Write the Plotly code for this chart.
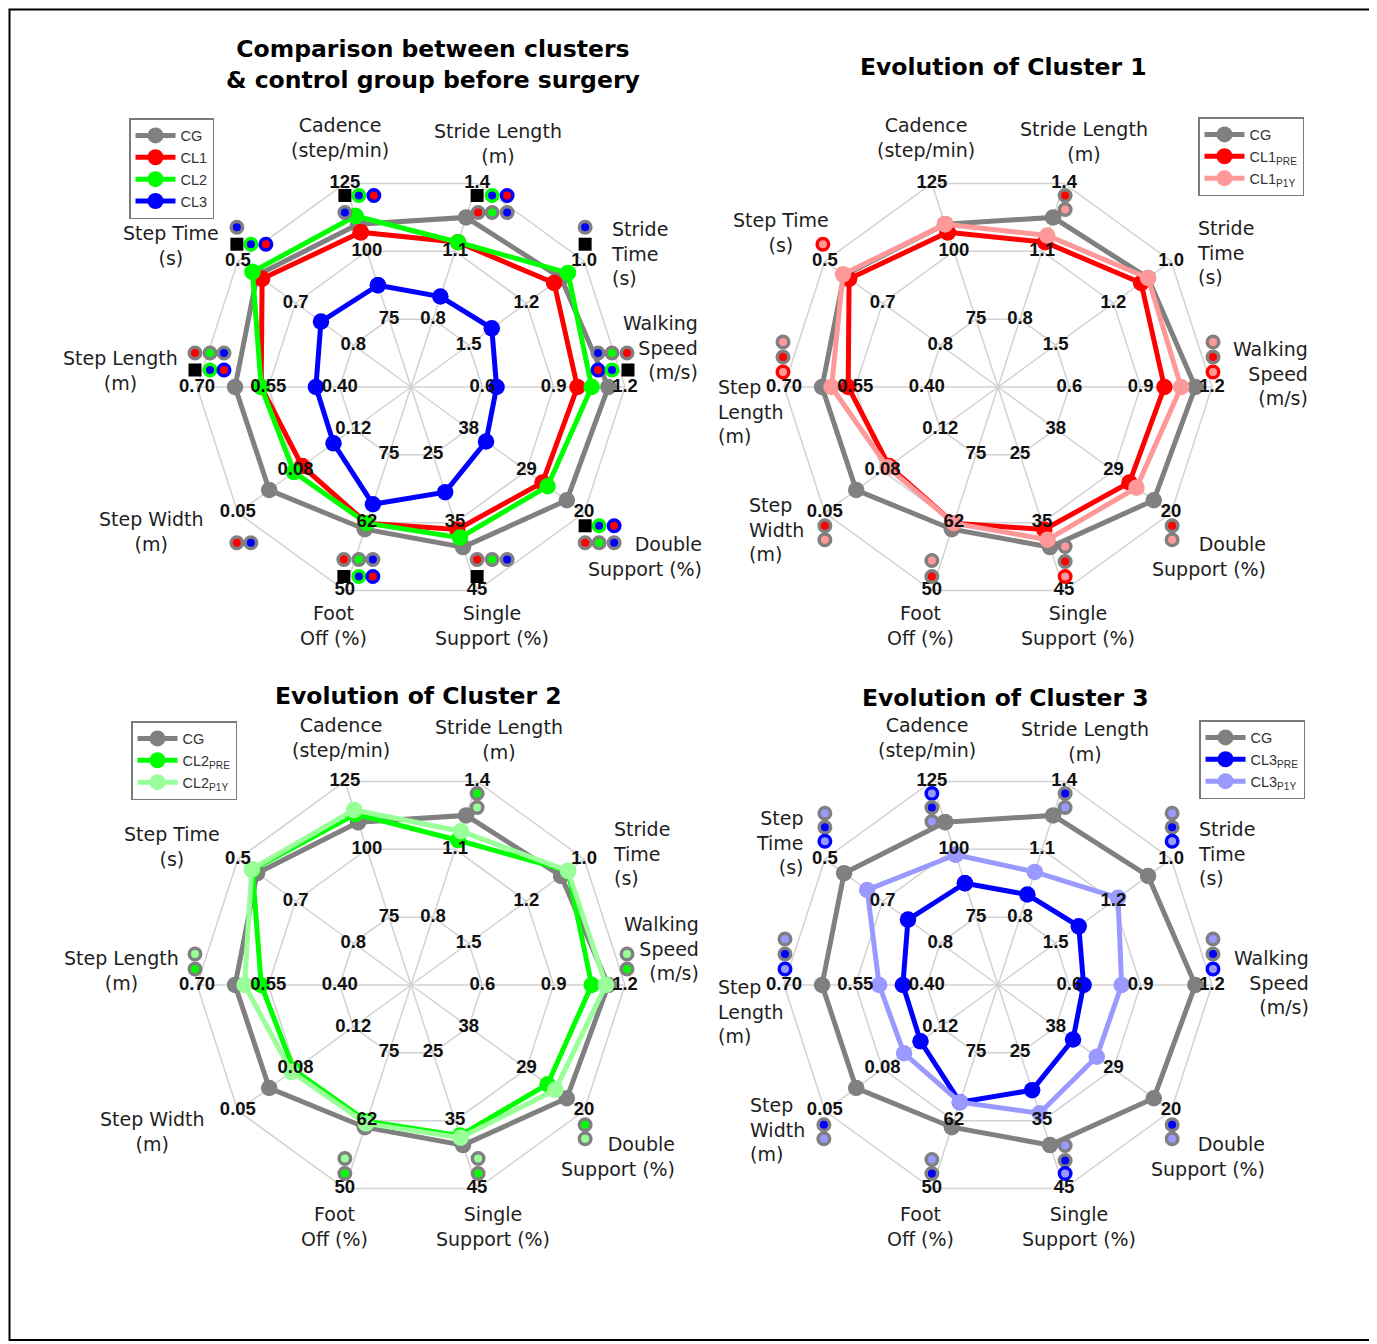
import math
import plotly.graph_objects as go

PAGE_OFF = 8          # the page body margin in the browser
W, H = 1377 - PAGE_OFF, 1344 - PAGE_OFF
R_PX = 214.0          # pixel radius of the outer ring
RMAX = 1.3            # radial range shown by each polar subplot

# ---------------- axes (clockwise from Cadence) ----------------
categories = ["Cadence", "Stride Length", "Stride Time", "Walking Speed", "Double Support",
              "Single Support", "Foot Off", "Step Width", "Step Length", "Step Time"]
theta_deg = [108, 72, 36, 0, -36, -72, -108, -144, 180, 144]
axis_center = [50, 0.5, 1.75, 0.3, 47, 15, 87.5, 0.155, 0.25, 0.95]   # value at the centre
axis_outer = [125, 1.4, 1.0, 1.2, 20, 45, 50, 0.05, 0.70, 0.5]        # value at the outer ring
tick_text = [["75", "100", "125"], ["0.8", "1.1", "1.4"], ["1.5", "1.2", "1.0"],
             ["0.6", "0.9", "1.2"], ["38", "29", "20"], ["25", "35", "45"],
             ["75", "62", "50"], ["0.12", "0.08", "0.05"], ["0.40", "0.55", "0.70"],
             ["0.8", "0.7", "0.5"]]

# ---------------- series values ----------------
cg = [110, 1.25, 1.10, 1.13, 22.7, 38.6, 61.3, 0.069, 0.62, 0.55]
cl1_pre = [107, 1.14, 1.13, 1.00, 26.5, 36.0, 62.4, 0.089, 0.565, 0.563]
cl1_p1y = [110, 1.17, 1.10, 1.07, 25.4, 37.5, 62.4, 0.088, 0.60, 0.547]
cl2_pre = [113, 1.14, 1.07, 1.06, 25.7, 37.2, 62.4, 0.084, 0.565, 0.538]
cl2_p1y = [114.5, 1.18, 1.07, 1.12, 24.5, 37.5, 62.0, 0.0825, 0.60, 0.536]
cl3_pre = [87.5, 0.90, 1.40, 0.66, 35.3, 30.5, 65.9, 0.108, 0.45, 0.716]
cl3_p1y = [98, 1.00, 1.23, 0.82, 31.6, 33.9, 65.9, 0.098, 0.50, 0.61]

COL = {"k": "#808080", "r": "#ff0000", "g": "#00ff00", "b": "#0000ff",
       "p": "#ff9999", "l": "#99ff99", "v": "#9999ff"}

# significance marks: (axis index, dx px, dy px, code) ; code = ring+centre colour or "sq"
sig_tl = [
    (0, 0, 12, "sq"), (0, 14, 12, "gb"), (0, 29, 12, "br"), (0, 0, 29, "kb"),
    (1, 0, 12, "sq"), (1, 15, 12, "gb"), (1, 30, 12, "br"), (1, 1, 29, "kr"), (1, 15, 29, "kg"), (1, 30, 29, "kb"),
    (2, 1, -34, "kb"), (2, 1, -17, "sq"),
    (3, -27, -34, "kb"), (3, -13, -34, "kg"), (3, 2, -34, "kr"), (3, -27, -17, "br"), (3, -13, -17, "gb"), (3, 3, -17, "sq"),
    (4, 1, 13, "sq"), (4, 15, 13, "gb"), (4, 30, 13, "br"), (4, 1, 30, "kr"), (4, 15, 30, "kg"), (4, 30, 30, "kb"),
    (5, 0, -31, "kr"), (5, 15, -31, "kg"), (5, 30, -31, "kb"), (5, 0, -14, "sq"),
    (6, -1, -31, "kr"), (6, 14, -31, "kg"), (6, 28, -31, "kb"), (6, -1, -14, "sq"), (6, 14, -14, "gb"), (6, 28, -14, "br"),
    (7, -1, 30, "kr"), (7, 13, 30, "kb"),
    (8, -2, -34, "kr"), (8, 13, -34, "kg"), (8, 27, -34, "kb"), (8, -2, -17, "sq"), (8, 13, -17, "gb"), (8, 27, -17, "br"),
    (9, -1, -34, "kb"), (9, -1, -17, "sq"), (9, 13, -17, "gb"), (9, 28, -17, "br"),
]
sig_tr = [
    (1, 1, 12, "kr"), (1, 1, 26, "kp"),
    (9, -2, -17, "rp"),
    (3, 1, -45, "kp"), (3, 1, -30, "kr"), (3, 1, -15, "rp"),
    (8, -1, -45, "kp"), (8, -1, -30, "kr"), (8, -1, -15, "rp"),
    (7, 0, 13, "kr"), (7, 0, 27, "kp"),
    (6, 0, -30, "kp"), (6, 0, -14, "kr"),
    (5, 1, -44, "kp"), (5, 1, -29, "kr"), (5, 1, -14, "rp"),
    (4, 1, 13, "kr"), (4, 1, 27, "kp"),
]
sig_bl = [
    (1, 0, 12, "kg"), (1, 0, 26, "kl"),
    (8, -2, -31, "kl"), (8, -2, -16, "kg"),
    (3, 2, -31, "kl"), (3, 2, -16, "kg"),
    (6, 0, -30, "kl"), (6, 0, -15, "kg"),
    (5, 1, -30, "kl"), (5, 1, -15, "kg"),
    (4, 1, 14, "kg"), (4, 1, 28, "kl"),
]
sig_br = [
    (0, 0, 12, "bv"), (0, 0, 26, "kb"), (0, 0, 40, "kv"),
    (1, 1, 12, "kb"), (1, 1, 26, "kv"),
    (9, 0, -46, "kv"), (9, 0, -32, "kb"), (9, 0, -18, "bv"),
    (2, 1, -46, "kv"), (2, 1, -32, "kb"), (2, 1, -18, "bv"),
    (8, 1, -46, "kv"), (8, 1, -31, "kb"), (8, 1, -16, "bv"),
    (3, 1, -46, "kv"), (3, 1, -31, "kb"), (3, 1, -16, "bv"),
    (7, -1, 14, "kb"), (7, -1, 28, "kv"),
    (6, 0, -29, "kv"), (6, 0, -15, "kb"),
    (5, 1, -43, "kv"), (5, 1, -28, "kb"), (5, 1, -15, "bv"),
    (4, 1, 14, "kb"), (4, 1, 28, "kv"),
]

# axis titles: (text, dx, dy, anchor) relative to the subplot centre
labels_tl = [
    ("Cadence<br>(step/min)", -71, -249, "center"), ("Stride Length<br>(m)", 87, -244, "center"),
    ("Stride<br>Time<br>(s)", 198, -134, "left"), ("Walking<br>Speed<br>(m/s)", 289, -39, "right"),
    ("Double<br>Support (%)", 293, 169, "right"), ("Single<br>Support (%)", 81, 239, "center"),
    ("Foot<br>Off (%)", -78, 239, "center"), ("Step Width<br>(m)", -260, 144, "center"),
    ("Step Length<br>(m)", -291, -17, "center"), ("Step Time<br>(s)", -240, -141, "center"),
]
labels_tr = [
    ("Cadence<br>(step/min)", -72, -249, "center"), ("Stride Length<br>(m)", 86, -246, "center"),
    ("Stride<br>Time<br>(s)", 197, -135, "left"), ("Walking<br>Speed<br>(m/s)", 312, -13, "right"),
    ("Double<br>Support (%)", 270, 169, "right"), ("Single<br>Support (%)", 80, 239, "center"),
    ("Foot<br>Off (%)", -77, 239, "center"), ("Step<br>Width<br>(m)", -251, 142, "left"),
    ("Step<br>Length<br>(m)", -282, 24, "left"), ("Step Time<br>(s)", -217, -154, "center"),
]
labels_bl = [
    ("Cadence<br>(step/min)", -70, -247, "center"), ("Stride Length<br>(m)", 88, -246, "center"),
    ("Stride<br>Time<br>(s)", 200, -132, "left"), ("Walking<br>Speed<br>(m/s)", 290, -37, "right"),
    ("Double<br>Support (%)", 266, 171, "right"), ("Single<br>Support (%)", 82, 241, "center"),
    ("Foot<br>Off (%)", -77, 241, "center"), ("Step Width<br>(m)", -259, 146, "center"),
    ("Step Length<br>(m)", -290, -15, "center"), ("Step Time<br>(s)", -239, -139, "center"),
]
labels_br = [
    ("Cadence<br>(step/min)", -71, -247, "center"), ("Stride Length<br>(m)", 87, -244, "center"),
    ("Stride<br>Time<br>(s)", 198, -132, "left"), ("Walking<br>Speed<br>(m/s)", 313, -3, "right"),
    ("Double<br>Support (%)", 269, 171, "right"), ("Single<br>Support (%)", 81, 241, "center"),
    ("Foot<br>Off (%)", -78, 241, "center"), ("Step<br>Width<br>(m)", -250, 144, "left"),
    ("Step<br>Length<br>(m)", -282, 26, "left"), ("Step<br>Time<br>(s)", -192, -143, "right"),
]

panels = [
    dict(center=(411, 387), title="<b>Comparison between clusters<br>&amp; control group before surgery</b>",
         title_xy=(433, 65), legend="legend", legend_xy=(129, 118),
         series=[("CG", cg, COL["k"]), ("CL1", cl1_pre, COL["r"]), ("CL2", cl2_pre, COL["g"]), ("CL3", cl3_pre, COL["b"])],
         sig=sig_tl, labels=labels_tl),
    dict(center=(998, 387), title="<b>Evolution of Cluster 1</b>", title_xy=(1004, 67),
         legend="legend2", legend_xy=(1198, 117),
         series=[("CG", cg, COL["k"]), ("CL1<sub>PRE</sub>", cl1_pre, COL["r"]), ("CL1<sub>P1Y</sub>", cl1_p1y, COL["p"])],
         sig=sig_tr, labels=labels_tr),
    dict(center=(411, 985), title="<b>Evolution of Cluster 2</b>", title_xy=(418, 696),
         legend="legend3", legend_xy=(131, 721),
         series=[("CG", cg, COL["k"]), ("CL2<sub>PRE</sub>", cl2_pre, COL["g"]), ("CL2<sub>P1Y</sub>", cl2_p1y, COL["l"])],
         sig=sig_bl, labels=labels_bl),
    dict(center=(998, 985), title="<b>Evolution of Cluster 3</b>", title_xy=(1005, 698),
         legend="legend4", legend_xy=(1199, 720),
         series=[("CG", cg, COL["k"]), ("CL3<sub>PRE</sub>", cl3_pre, COL["b"]), ("CL3<sub>P1Y</sub>", cl3_p1y, COL["v"])],
         sig=sig_br, labels=labels_br),
]


def px_x(px):
    return (px - PAGE_OFF) / W


def px_y(py):
    return 1 - (py - PAGE_OFF) / H


def norm(values):
    return [(v - c) / (o - c) for v, c, o in zip(values, axis_center, axis_outer)]


def offset_polar(theta, dx, dy):
    t = math.radians(theta)
    x = math.cos(t) + dx / R_PX
    y = math.sin(t) - dy / R_PX
    return math.hypot(x, y), math.degrees(math.atan2(y, x))


fig = go.Figure()
layout = dict(width=W, height=H, margin=dict(l=0, r=0, t=0, b=0), paper_bgcolor="white",
              plot_bgcolor="white", annotations=[], shapes=[])

GRID = "#d2d2d2"
LABEL_FONT = dict(family="DejaVu Sans", size=19, color="#1e1e1e")

for i, p in enumerate(panels):
    sp = "polar" if i == 0 else f"polar{i + 1}"
    cx, cy = p["center"]
    S = RMAX * R_PX
    layout[sp] = dict(
        domain=dict(x=[px_x(cx - S), px_x(cx + S)], y=[px_y(cy + S), px_y(cy - S)]),
        bgcolor="rgba(0,0,0,0)",
        radialaxis=dict(visible=False, range=[0, RMAX]),
        angularaxis=dict(visible=False, rotation=0, direction="counterclockwise"),
    )
    # grid rings
    rr, tt = [], []
    for level in (1 / 3, 2 / 3, 1.0):
        rr += [level] * 11 + [None]
        tt += theta_deg + [theta_deg[0], None]
    fig.add_trace(go.Scatterpolar(r=rr, theta=tt, mode="lines", subplot=sp, showlegend=False,
                                  line=dict(color=GRID, width=1.5), hoverinfo="skip"))
    rr, tt = [], []
    for th in theta_deg:
        rr += [0, 1, None]
        tt += [th, th, None]
    fig.add_trace(go.Scatterpolar(r=rr, theta=tt, mode="lines", subplot=sp, showlegend=False,
                                  line=dict(color=GRID, width=1.5), hoverinfo="skip"))
    # data series
    for name, vals, color in p["series"]:
        r = norm(vals)
        fig.add_trace(go.Scatterpolar(r=r + [r[0]], theta=theta_deg + [theta_deg[0]], name=name,
                                      mode="lines+markers", subplot=sp, legend=p["legend"],
                                      line=dict(color=color, width=5),
                                      marker=dict(color=color, size=16.5)))
    # tick labels on each spoke
    rr, tt, tx = [], [], []
    for k, th in enumerate(theta_deg):
        for j, lab in enumerate(tick_text[k]):
            rr.append((j + 1) / 3)
            tt.append(th)
            tx.append(lab)
    fig.add_trace(go.Scatterpolar(r=rr, theta=tt, text=tx, mode="text", subplot=sp, showlegend=False,
                                  textposition="middle center",
                                  textfont=dict(family="Liberation Sans", size=18.5, color="#111111",
                                                weight="bold"),
                                  hoverinfo="skip"))
    # significance marks
    ring_r, ring_t, ring_c, ring_l, sq_r, sq_t = [], [], [], [], [], []
    for k, dx, dy, code in p["sig"]:
        r, t = offset_polar(theta_deg[k], dx, dy)
        if code == "sq":
            sq_r.append(r)
            sq_t.append(t)
        else:
            ring_r.append(r)
            ring_t.append(t)
            ring_l.append(COL[code[0]])
            ring_c.append(COL[code[1]])
    if ring_r:
        fig.add_trace(go.Scatterpolar(r=ring_r, theta=ring_t, mode="markers", subplot=sp, showlegend=False,
                                      marker=dict(size=11.5, color=ring_c, line=dict(color=ring_l, width=3.5)),
                                      hoverinfo="skip"))
    if sq_r:
        fig.add_trace(go.Scatterpolar(r=sq_r, theta=sq_t, mode="markers", subplot=sp, showlegend=False,
                                      marker=dict(size=13, color="black", symbol="square"),
                                      hoverinfo="skip"))
    # titles
    tx_, ty_ = p["title_xy"]
    layout["annotations"].append(dict(text=p["title"], x=px_x(tx_), y=px_y(ty_), xref="paper", yref="paper",
                                      showarrow=False, xanchor="center", yanchor="middle",
                                      font=dict(family="DejaVu Sans", size=23.5, color="black")))
    for text, dx, dy, anchor in p["labels"]:
        layout["annotations"].append(dict(text=text, x=px_x(cx + dx), y=px_y(cy + dy), xref="paper",
                                          yref="paper", showarrow=False, xanchor=anchor, yanchor="middle",
                                          align=anchor, font=LABEL_FONT))
    lx, ly = p["legend_xy"]
    layout[p["legend"]] = dict(x=px_x(lx), y=px_y(ly), xanchor="left", yanchor="top", bgcolor="white",
                               bordercolor="#7a7a7a", borderwidth=1.5, itemwidth=40, tracegroupgap=0,
                               font=dict(family="Liberation Sans", size=14.5, color="#333333"))

layout["shapes"].append(dict(type="rect", xref="paper", yref="paper", x0=1.5 / W, x1=px_x(1372),
                             y0=px_y(1340), y1=1 - 1.5 / H, line=dict(color="black", width=2)))
fig.update_layout(**layout)
fig.write_html("out.html")
